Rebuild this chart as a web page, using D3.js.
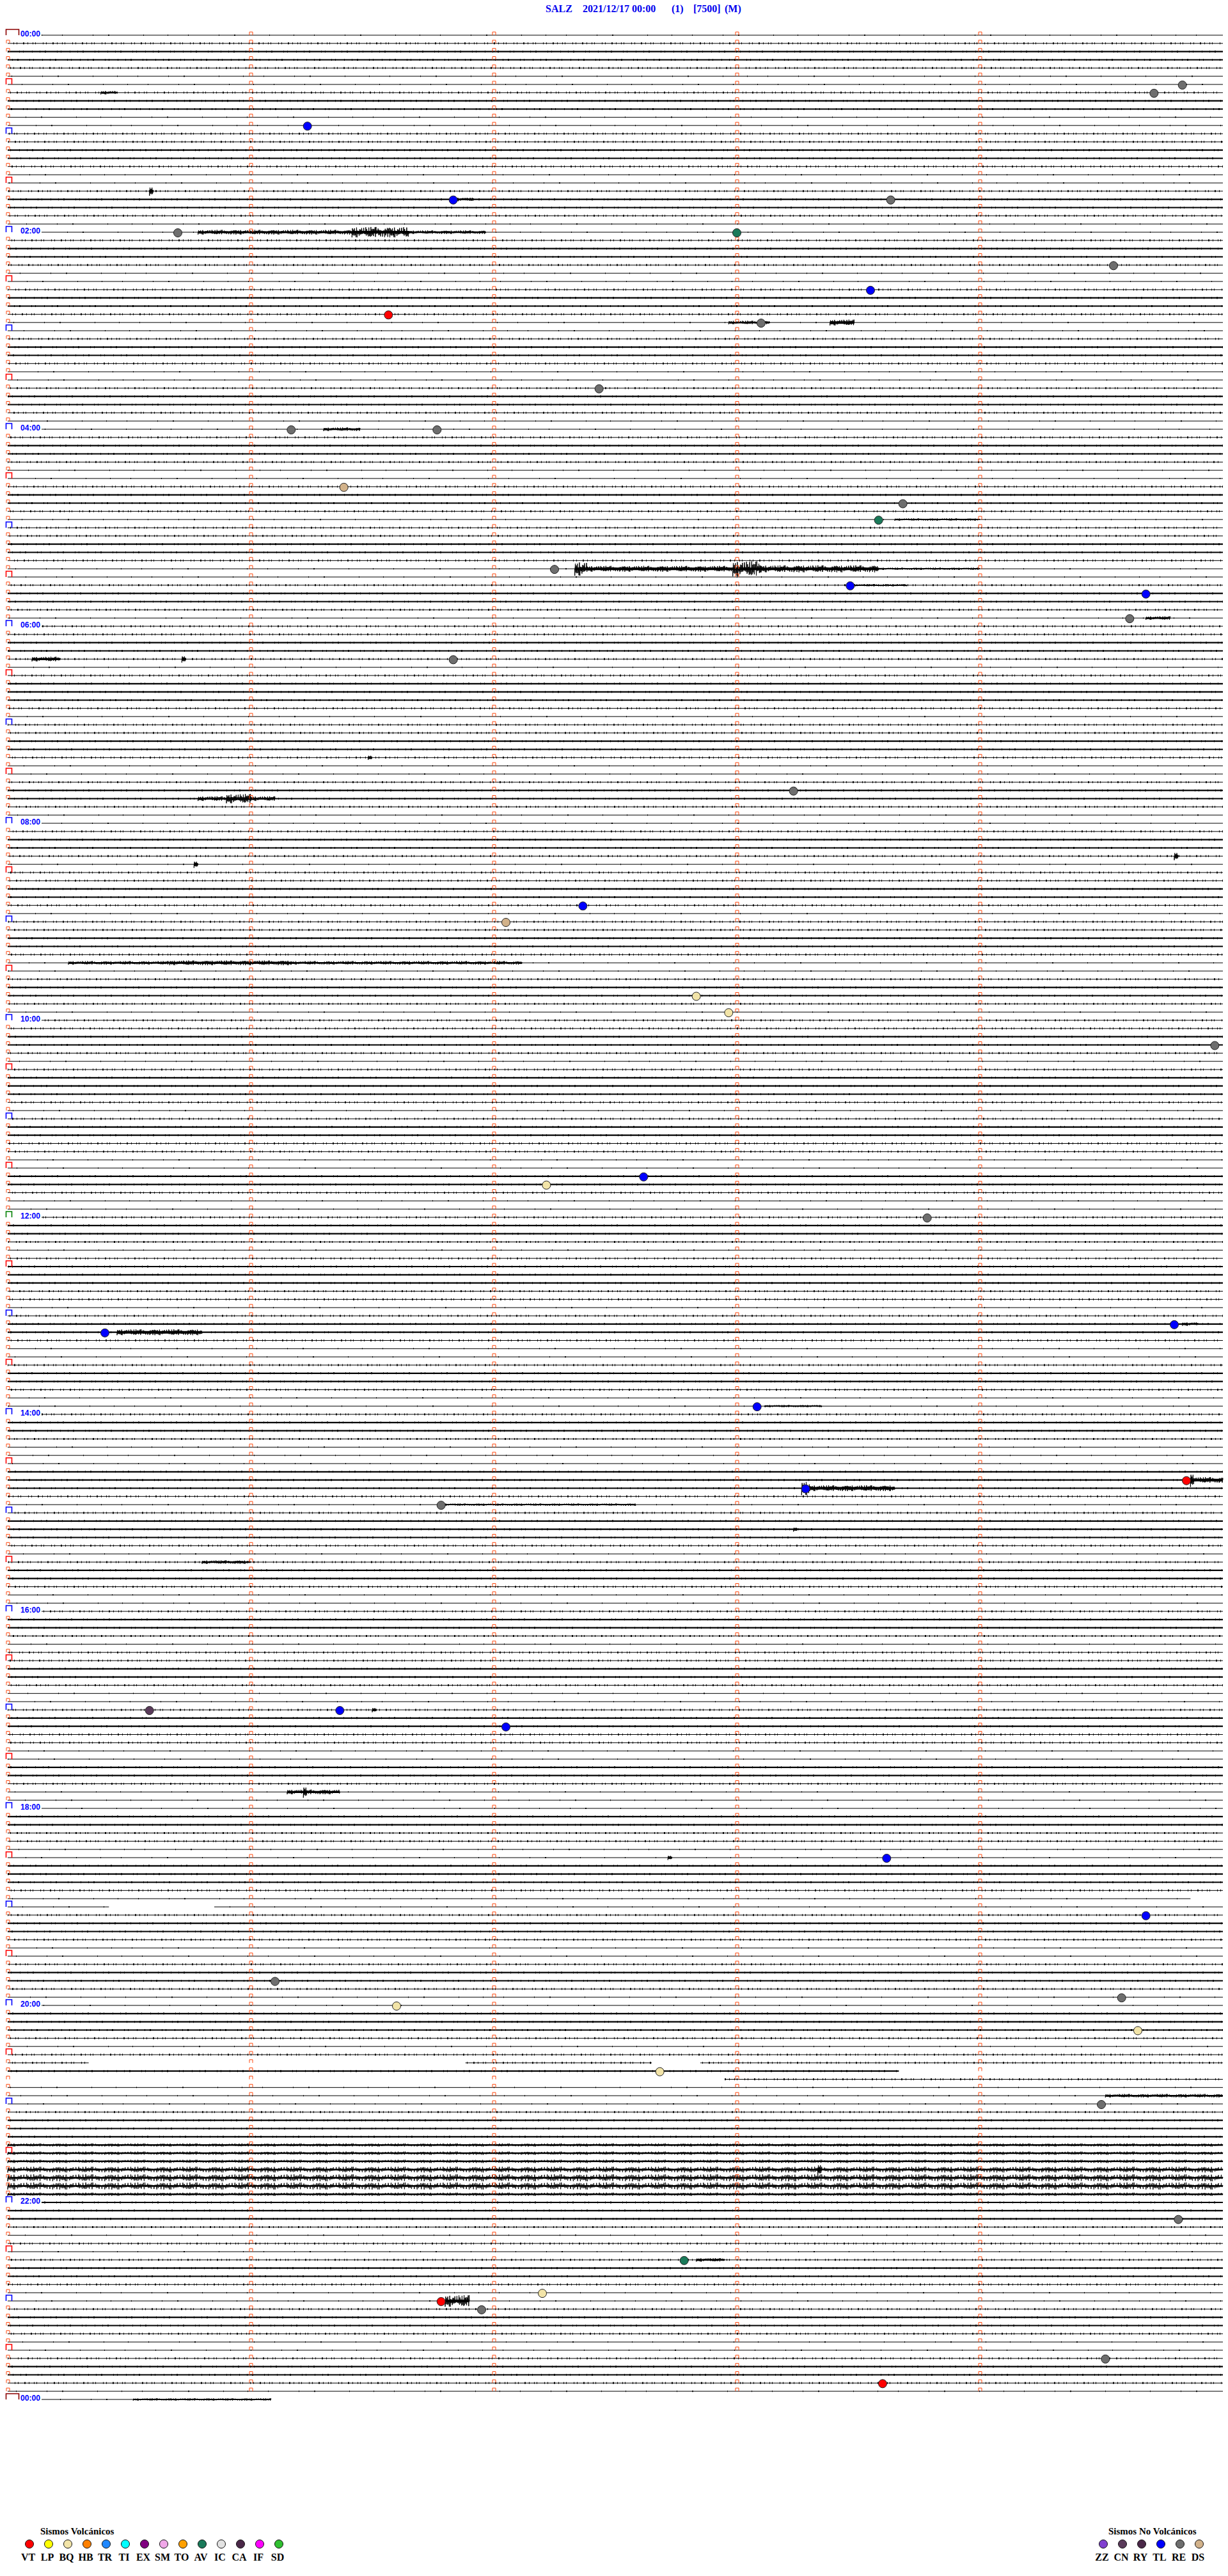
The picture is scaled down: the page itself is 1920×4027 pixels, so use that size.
<!DOCTYPE html>
<html><head><meta charset="utf-8">
<script src="https://cdn.jsdelivr.net/npm/d3@7"></script>
<style>body{margin:0;background:#fff}svg{display:block}</style>
</head><body>
<svg id="c" width="1920" height="4027"></svg>
<script>
// ---------- DATA ----------
const titleParts = ["SALZ", "2021/12/17 00:00", "(1)", "[7500]", "(M)"];
const hourLabels = ["00:00","02:00","04:00","06:00","08:00","10:00","12:00","14:00","16:00","18:00","20:00","22:00","00:00"];
const minutesPerRow = 5;
const minuteTicks = [0, 1, 2, 3, 4];

// background noise level of each 5-minute row (1 = quiet ... 6 = very noisy)
const rowLevels = [
  1,2,3,3,2,1,1,2,3,3,1,1,   // 00h
  2,2,3,3,2,1,1,2,3,3,2,1,   // 01h
  1,2,3,3,2,1,1,2,3,3,2,1,   // 02h
  1,2,3,3,2,1,1,2,3,3,2,1,   // 03h
  1,2,3,3,2,1,1,2,3,3,2,1,   // 04h
  2,2,3,3,2,1,1,2,3,3,2,1,   // 05h
  2,2,3,3,2,1,2,3,3,3,2,1,   // 06h
  2,2,3,3,2,1,1,2,3,3,2,1,   // 07h
  1,2,3,3,2,1,2,2,3,3,2,1,   // 08h
  2,2,3,3,2,1,1,2,3,3,2,1,   // 09h
  2,2,3,3,2,1,2,3,3,3,2,1,   // 10h
  2,3,3,2,2,1,1,3,3,2,1,1,   // 11h
  2,3,3,2,1,2,3,3,3,2,2,1,   // 12h
  2,3,3,2,1,1,2,3,3,2,1,1,   // 13h
  2,3,3,2,1,1,1,3,3,3,2,1,   // 14h
  2,3,3,3,2,1,2,3,3,2,1,1,   // 15h
  2,3,3,2,1,2,2,3,3,2,1,1,   // 16h
  2,3,3,2,2,1,1,3,3,2,1,1,   // 17h
  1,3,3,2,2,1,1,3,3,3,2,1,   // 18h
  1,2,3,3,2,1,1,2,3,3,2,1,   // 19h
  1,3,3,3,2,1,2,2,3,2,1,1,   // 20h
  1,2,3,3,3,4,4,4,5,6,6,4,   // 21h
  3,3,3,2,1,2,1,2,3,3,2,1,   // 22h
  1,2,3,3,2,1,1,2,3,3,2,1,   // 23h
  1                          // 00h next day
];

// classified events [time, type]
const events = [
  ["00:34:50","RE"],["00:39:43","RE"],["00:56:14","TL"],["01:41:50","TL"],["01:43:38","RE"],
  ["02:00:42","RE"],["02:03:00","AV"],["02:24:33","RE"],["02:38:33","TL"],["02:51:34","VT"],
  ["02:58:06","RE"],["03:37:26","RE"],["04:01:10","RE"],["04:01:46","RE"],["04:36:23","DS"],
  ["04:48:41","RE"],["04:58:35","AV"],["05:27:15","RE"],["05:38:28","TL"],["05:44:41","TL"],
  ["05:59:37","RE"],["06:21:50","RE"],["07:43:14","RE"],["08:52:22","TL"],["09:02:03","DS"],
  ["09:47:50","BQ"],["09:57:58","BQ"],["10:19:58","RE"],["11:37:37","TL"],["11:42:13","BQ"],
  ["12:03:47","RE"],["13:09:48","TL"],["13:10:24","TL"],["13:58:05","TL"],["14:44:51","VT"],
  ["14:48:17","TL"],["14:56:47","RE"],["17:00:35","CN"],["17:01:22","TL"],["17:12:03","TL"],
  ["18:33:37","TL"],["19:09:41","TL"],["19:46:06","RE"],["19:59:35","RE"],["20:01:36","BQ"],
  ["20:19:39","BQ"],["20:42:41","BQ"],["21:04:30","RE"],["22:14:49","RE"],["22:37:47","AV"],
  ["22:57:12","BQ"],["23:01:47","VT"],["23:06:57","RE"],["23:39:31","RE"],["23:53:36","VT"]
];

// signal bursts [start, end, half-amplitude]
const bursts = [
  ["00:35:23","00:35:27",3],["01:35:35","01:35:36",8],["01:41:50","01:41:55",3],
  ["02:00:47","02:01:25",4],["02:01:25","02:01:39",9],["02:01:39","02:01:58",3],
  ["02:57:58","02:58:08",3],["02:58:23","02:58:29",5],["04:01:18","04:01:27",3],
  ["04:58:39","04:59:00",2],["05:27:20","05:27:23",12],["05:27:23","05:27:59",5],
  ["05:27:59","05:28:06",13],["05:28:06","05:28:35",6],["05:28:35","05:29:00",2],
  ["05:38:28","05:38:42",2],["05:59:41","05:59:47",3],["06:20:06","06:20:13",4],
  ["06:20:43","06:20:44",6],["07:21:29","07:21:30",4],["07:45:47","07:45:54",4],
  ["07:45:54","07:46:00",8],["07:46:00","07:46:06",4],["08:24:48","08:24:49",7],
  ["08:25:46","08:25:47",6],["09:25:15","09:25:40",3],["09:25:40","09:26:10",4],
  ["09:26:10","09:27:07",3],["13:09:50","13:09:54",3],["13:10:27","13:10:48",5],
  ["13:58:07","13:58:21",2],["14:44:51","14:45:00",5],["14:44:52","14:44:53",12],
  ["14:48:16","14:48:18",12],["14:48:18","14:48:39",5],["14:56:47","14:57:35",2],
  ["15:13:14","15:13:15",4],["15:30:48","15:31:00",3],["17:01:30","17:01:31",4],
  ["17:51:09","17:51:22",4],["17:51:13","17:51:14",10],["18:32:43","18:32:44",4],
  ["20:59:31","21:00:00",3],["21:43:20","21:43:21",10],["22:37:50","22:37:57",3],
  ["23:01:48","23:01:54",10],["24:00:31","24:01:05",2]
];

// periods without data [start, end]
const gaps = [
  ["18:59:52","19:00:00"],["19:00:25","19:00:51"],["20:35:20","20:36:53"],
  ["20:37:39","20:37:51"],["20:43:40","20:45:00"],["20:45:00","20:47:57"]
];
const dataEnd = "24:01:05";

const volcanicTypes  = ["VT","LP","BQ","HB","TR","TI","EX","SM","TO","AV","IC","CA","IF","SD"];
const volcanicColors = ["#ff0000","#ffff00","#f2e4a8","#ff8000","#2088ff","#00ffff","#800080","#f0a8e8","#ffa000","#1a7a5a","#e2e2e2","#4a2848","#ff00ff","#30c030"];
const nonVolcanicTypes  = ["ZZ","CN","RY","TL","RE","DS"];
const nonVolcanicColors = ["#8040d0","#5a3a5a","#4a2848","#0000ff","#6e6e6e","#d2b28a"];

// ---------- HELPERS ----------
const parseT = s => { const p = s.split(":").map(Number); return p[0]*60 + p[1] + (p[2]||0)/60; };
const nRows = rowLevels.length;
const rowOf = t => Math.floor(t / minutesPerRow + 1e-9);

const svg = d3.select("#c");
const y = d3.scaleLinear().domain([0, nRows - 1]).range([55, 3751]);
const x = d3.scaleLinear().domain([0, minutesPerRow]).range([12, 1912]);
const amp = d3.scaleLinear().domain([0, 1]).range([0, 0.9]);

const colorOf = {};
volcanicTypes.forEach((t,i)=>colorOf[t]=volcanicColors[i]);
nonVolcanicTypes.forEach((t,i)=>colorOf[t]=nonVolcanicColors[i]);

// drawing styles (not data)
const levelStyle = {
  1:{base:1,   band:2,   dash:"1 31 1 47 1 23 2 53 1 37"},
  2:{base:1,   band:3,   dash:"1 4 1 9 2 5 1 7 1 3 1 11"},
  3:{base:2.2, band:3,   dash:"1 11 1 7 2 17 1 5 1 13"},
  4:{base:2.5, band:0,   zig:2.5},
  5:{base:2.5, band:0,   zig:4.5},
  6:{base:2.5, band:0,   zig:5.5}
};
const spikeShape = [1,0.45,0.8,0.3,0.95,0.6,0.2,0.75,0.5,0.9,0.35,0.65,0.15,0.85,0.55,0.4,0.7,0.25,
                    0.6,0.95,0.3,0.5,0.8,0.1,0.7,0.45,0.9,0.2,0.65,0.35,0.85,0.55,0.25,1,0.4,0.75,0.15];
function zigPath(xa, xb, yy, h, step) {
  let d = `M${xa},${yy}`, i = 0;
  for (let xx = xa; xx <= xb; xx += step, i++) {
    const s = (i % 2 ? -1 : 1) * h * spikeShape[(i * 7) % spikeShape.length];
    d += `L${xx.toFixed(1)},${(yy + s).toFixed(1)}`;
  }
  return d + `L${xb},${yy}`;
}

const endT = parseT(dataEnd);
const endRow = rowOf(endT);

// ---------- TRACES ----------
const gTr = svg.append("g");
rowLevels.forEach((lv, k) => {
  const st = levelStyle[lv];
  const x0 = (k % 24 === 0) ? 65 : x(0);
  const x1 = (k === endRow) ? x(endT - k*minutesPerRow) : x(minutesPerRow);
  const yy = y(k);
  gTr.append("line").attr("x1", x0).attr("x2", x1).attr("y1", yy).attr("y2", yy)
    .attr("stroke", "#000").attr("stroke-width", st.base);
  if (st.band) {
    gTr.append("line").attr("x1", x0).attr("x2", x1).attr("y1", yy).attr("y2", yy)
      .attr("stroke", "#000").attr("stroke-width", st.band)
      .attr("stroke-dasharray", st.dash).attr("stroke-dashoffset", (k*37) % 53);
  }
  if (st.zig) {
    gTr.append("path").attr("d", zigPath(x0, x1, yy, st.zig, 1.1))
      .attr("fill", "none").attr("stroke", "#000").attr("stroke-width", 0.9);
  }
});

// bursts
const gB = svg.append("g");
bursts.forEach(([a,b,h]) => {
  const ta = parseT(a), tb = parseT(b);
  const r = rowOf(ta);
  const xa = x(ta - r*minutesPerRow), xb = Math.max(x(tb - r*minutesPerRow), xa + 2);
  gB.append("path").attr("d", zigPath(xa, xb, y(r), amp(h), 0.8))
    .attr("fill", "none").attr("stroke", "#000").attr("stroke-width", 1);
  gB.append("line").attr("x1", xa).attr("x2", xb).attr("y1", y(r)).attr("y2", y(r))
    .attr("stroke", "#000").attr("stroke-width", Math.min(2*amp(h)*0.45, 4));
});

// gaps (no data)
const gG = svg.append("g");
gaps.forEach(([a,b]) => {
  const ta = parseT(a), tb = parseT(b);
  const r = rowOf(ta);
  const xa = x(ta - r*minutesPerRow), xb = x(tb - r*minutesPerRow);
  gG.append("rect").attr("x", xa).attr("y", y(r) - 6)
    .attr("width", xb - xa + (tb - r*minutesPerRow >= 5 ? 10 : 0))
    .attr("height", 12).attr("fill", "#fff");
});

// ---------- MARKERS ----------
const gM = svg.append("g").attr("fill", "none");
rowLevels.forEach((lv, k) => {
  const yy = y(k);
  const boxRow = (k % 6 === 0);
  minuteTicks.forEach(m => {
    if (m === 0 && boxRow) return;
    if (k === endRow && m > 0) return;
    const xm = x(m) + 0.5;
    gM.append("path")
      .attr("d", `M${xm-2.5},${yy} V${yy-5} H${xm+2.5} V${yy}`)
      .attr("stroke", "#ff4a10").attr("stroke-width", 1);
  });
  if (boxRow) {
    let col, w = 9;
    if (k === 0 || k === nRows - 1) { col = "#8b0000"; w = 20; }
    else if (k % 12 === 0) col = (k === 144) ? "#008000" : "#0000ff";
    else col = "#ff0000";
    gM.append("path")
      .attr("d", `M9.5,${yy} V${yy-9} H${9.5+w} V${yy}`)
      .attr("stroke", col).attr("stroke-width", 1.6);
  }
});

// hour labels
hourLabels.forEach((lab, i) => {
  svg.append("text").attr("x", 32).attr("y", y(i*24) + 2)
    .attr("font-family", "'Liberation Sans Narrow','Liberation Sans',Arial,sans-serif")
    .attr("font-weight", "bold").attr("font-size", 13)
    .attr("textLength", 31).attr("lengthAdjust", "spacingAndGlyphs")
    .attr("fill", "#0000ff").text(lab);
});

// ---------- EVENTS ----------
const gE = svg.append("g");
events.forEach(([t, typ]) => {
  const tt = parseT(t); const r = rowOf(tt);
  gE.append("circle").attr("cx", x(tt - r*minutesPerRow)).attr("cy", y(r) + 1).attr("r", 6.5)
    .attr("fill", colorOf[typ]).attr("stroke", "#222").attr("stroke-width", 1);
});

// ---------- TITLE ----------
const titleX = [853, 911, 1050, 1084, 1133];
titleParts.forEach((s, i) => {
  svg.append("text").attr("x", titleX[i]).attr("y", 19)
    .attr("font-family", "'Liberation Serif','Times New Roman',serif")
    .attr("font-weight", "bold").attr("font-size", 16).attr("fill", "#0000ee").text(s);
});

// ---------- LEGENDS ----------
function legend(title, titleX, types, colors, cx0) {
  svg.append("text").attr("x", titleX).attr("y", 3962)
    .attr("font-family", "'Liberation Serif','Times New Roman',serif")
    .attr("font-weight", "bold").attr("font-size", 15).attr("fill", "#000").text(title);
  types.forEach((t, i) => {
    const cx = cx0 + 30*i;
    svg.append("circle").attr("cx", cx).attr("cy", 3977).attr("r", 6.5)
      .attr("fill", colors[i]).attr("stroke", "#111").attr("stroke-width", 1);
    svg.append("text").attr("x", cx - 2).attr("y", 4003).attr("text-anchor", "middle")
      .attr("font-family", "'Liberation Serif','Times New Roman',serif")
      .attr("font-weight", "bold").attr("font-size", 16).attr("fill", "#000").text(t);
  });
}
legend("Sismos Volcánicos", 63, volcanicTypes, volcanicColors, 46);
legend("Sismos No Volcánicos", 1733, nonVolcanicTypes, nonVolcanicColors, 1725);
</script>
</body></html>
